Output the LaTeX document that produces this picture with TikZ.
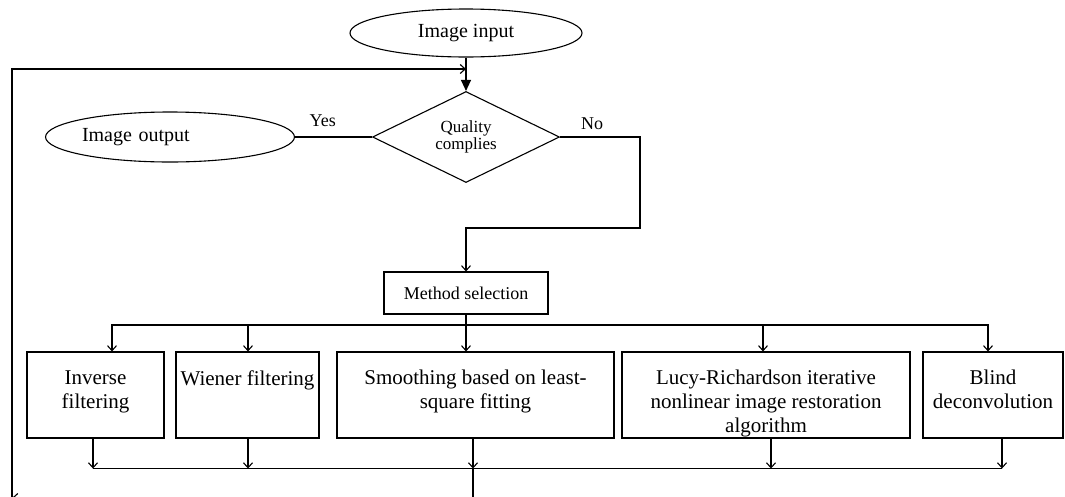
\documentclass[tikz,border=0pt]{standalone}
\usepackage{fontspec}
\setmainfont{Liberation Serif}
\usetikzlibrary{shapes.geometric,positioning,arrows.meta}
\tikzset{
term/.style={ellipse, draw, font=\fontsize{20}{24}\selectfont},
decide/.style={diamond, draw, aspect=2, inner sep=0pt, minimum width=187pt, minimum height=91pt, align=center, font=\fontsize{17}{17}\selectfont},
stepbox/.style={rectangle, draw, minimum width=164pt, minimum height=42pt, font=\fontsize{18}{20}\selectfont},
frame/.style={rectangle, draw, minimum height=86pt},
boxtext/.style={align=center, font=\fontsize{21}{24}\selectfont},
tag/.style={font=\fontsize{18}{20}\selectfont}
}

\begin{document}
\begin{tikzpicture}[x=1pt, y=-1pt, line width=1.1pt, >={Straight Barb[length=5pt,width=9pt]}]
\useasboundingbox (0,0) rectangle (1065,496);

\node[term, minimum width=232pt, minimum height=48pt] (input) at (466,33) {Image input};
\node[decide] (quality) at (466,137) {Quality\\complies};
\node[term, minimum width=248pt, minimum height=50pt, inner sep=0pt, text width=176pt, align=left] (output) at (170,137) {Image output};
\node[stepbox] (method) at (466,293) {Method selection};

% the five restoration methods
\foreach \n/\x/\w/\t in {inv/95.5/137/{Inverse\\filtering}, wien/247.5/143/{Wiener filtering}, smooth/475.5/277/{Smoothing based on least-\\square fitting}, lucy/766/288/{Lucy-Richardson iterative\\nonlinear image restoration\\algorithm}, blind/993/140/{Blind\\deconvolution}} {
\node[frame, minimum width=\w pt] (\n) at (\x,395) {};
\node[boxtext, below=15pt of \n.north] (\n-text) {\t};
}

\draw[-{Triangle[length=11pt,width=10pt]}] (input) -- (quality);
\draw (output) -- (quality) node[tag, pos=0.36, above=6pt] (yes) {Yes};

\coordinate (turn) at (640,228);
\draw[->] (quality.east) -| (turn) node[tag, pos=0.2, above=3pt] (no) {No} -| (method.north);

\coordinate (split) at (466,325);
\draw[->] (method.south) -- (method.south |- smooth.north);
\foreach \n/\d in {inv/16.5, wien/0.5, lucy/-3, blind/-5}
\draw[->] (split) -| ([xshift=\d pt]\n.north);

\foreach \n/\d in {inv/-2.5, wien/0.5, smooth/-2.5, lucy/5, blind/9}
\draw[->] ([xshift=\d pt]\n.south) -- ++(0,30);
\draw ([xshift=-2.5pt, yshift=-30pt]inv.south) -- ([xshift=9pt, yshift=-30pt]blind.south);

% loop back to the top
\coordinate (merge) at (473,468);
\coordinate (back) at (12,498);
\coordinate (reentry) at (466,69);
\draw[->] (merge) |- (back);
\draw[->] (back) |- (reentry);

\end{tikzpicture}
\end{document}
